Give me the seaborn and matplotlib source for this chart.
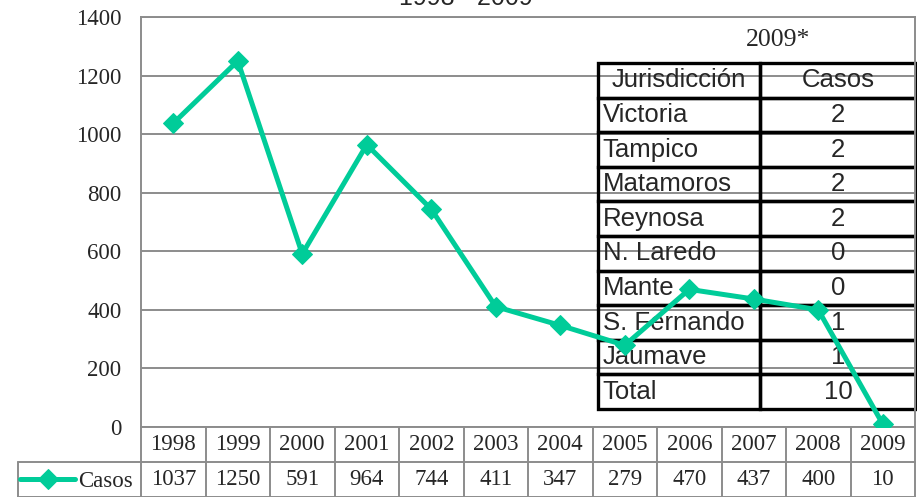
import numpy as np
import matplotlib
matplotlib.use("Agg")
import matplotlib.pyplot as plt
from matplotlib.table import Table
import pandas as pd
import seaborn as sns

# data
years = ["1998", "1999", "2000", "2001", "2002", "2003", "2004", "2005",
         "2006", "2007", "2008", "2009"]
casos = [1037, 1250, 591, 964, 744, 411, 347, 279, 470, 437, 400, 10]

jurisdicciones = ["Victoria", "Tampico", "Matamoros", "Reynosa", "N. Laredo",
                  "Mante", "S. Fernando", "Jaumave", "Total"]
casos_2009 = [2, 2, 2, 2, 0, 0, 1, 1, 10]

green = "#00CC99"
grid_gray = "#8c8c8c"
serif = "Liberation Serif"
sans = "Liberation Sans"

sns.set_style("white")
plt.rcParams["font.family"] = [serif, "DejaVu Serif"]

df = pd.DataFrame({"pos": np.arange(len(years)), "casos": casos})

fig = plt.figure(figsize=(9.17, 4.97), dpi=100)
ax = fig.add_axes([141 / 917, 70 / 497, 774 / 917, 410 / 497])

sns.lineplot(data=df, x="pos", y="casos", color=green, linewidth=3.6,
             marker="D", markersize=10, markeredgecolor=green,
             label="Casos", ax=ax, zorder=4)

fs = 16.5
ax.set_xlim(-0.5, len(years) - 0.5)
ax.set_ylim(0, 1400)
ax.set_yticks(range(0, 1401, 200))
ax.set_yticklabels([str(v) for v in range(0, 1401, 200)], fontsize=fs)
ax.tick_params(axis="y", length=0, pad=14)
ax.set_xticks([])
ax.set_xlabel("")
ax.set_ylabel("")
ax.yaxis.grid(True, color=grid_gray, linewidth=1.4)
ax.set_axisbelow(True)
for s in ax.spines.values():
    s.set_color(grid_gray)
    s.set_linewidth(1.4)

# data table under the axis
trans = ax.get_xaxis_transform()
rh = 35 / 410
n = len(years)
left_x = -0.5 - 123 / 64.5
for k in range(n + 1):
    ax.plot([k - 0.5, k - 0.5], [0, -2 * rh], transform=trans, color=grid_gray,
            lw=1.4, clip_on=False)
ax.plot([left_x, left_x], [-rh, -2 * rh], transform=trans, color=grid_gray,
        lw=1.4, clip_on=False)
ax.plot([left_x, n - 0.5], [-rh, -rh], transform=trans, color=grid_gray,
        lw=1.4, clip_on=False)
ax.plot([left_x, n - 0.5], [-2 * rh, -2 * rh], transform=trans,
        color=grid_gray, lw=1.4, clip_on=False)
for i, (yr, c) in enumerate(zip(years, casos)):
    ax.text(i, -0.5 * rh, yr, transform=trans, ha="center", va="center",
            fontsize=fs)
    ax.text(i, -1.5 * rh, str(c), transform=trans, ha="center", va="center",
            fontsize=fs)

leg = ax.legend(loc="center left", bbox_to_anchor=(20 / 917, 16 / 497),
                bbox_transform=fig.transFigure, frameon=False, borderpad=0,
                borderaxespad=0, handlelength=2.4, handletextpad=0.15,
                prop={"family": serif, "size": fs})

# 2009 table overlay
tb = Table(ax, bbox=[457 / 774, 18 / 410, 318 / 774, 346 / 410])
col_w = [162, 156]
rows = [("Jurisdicción", "Casos")] + list(zip(jurisdicciones,
                                               [str(v) for v in casos_2009]))
for r, (name, val) in enumerate(rows):
    for c, txt in enumerate((name, val)):
        loc = "left" if (c == 0 and r > 0) else "center"
        cell = tb.add_cell(r, c, width=col_w[c], height=1, text=txt, loc=loc,
                           edgecolor="black", facecolor="none")
        cell.PAD = 0.03
        cell.set_linewidth(2.4)
        cell.get_text().set_fontfamily(sans)
tb.auto_set_font_size(False)
tb.set_fontsize(18.5)
tb.set_zorder(2)
ax.add_table(tb)

ax.text(637 / 774, 387 / 410, "2009*", transform=ax.transAxes, ha="center",
        va="center", fontsize=18.5)

fig.text(471 / 917, 1 - 5 / 497, "1998 - 2009*", ha="center", va="baseline",
         fontsize=18, family=sans)

fig.savefig("out.png", dpi=100)
